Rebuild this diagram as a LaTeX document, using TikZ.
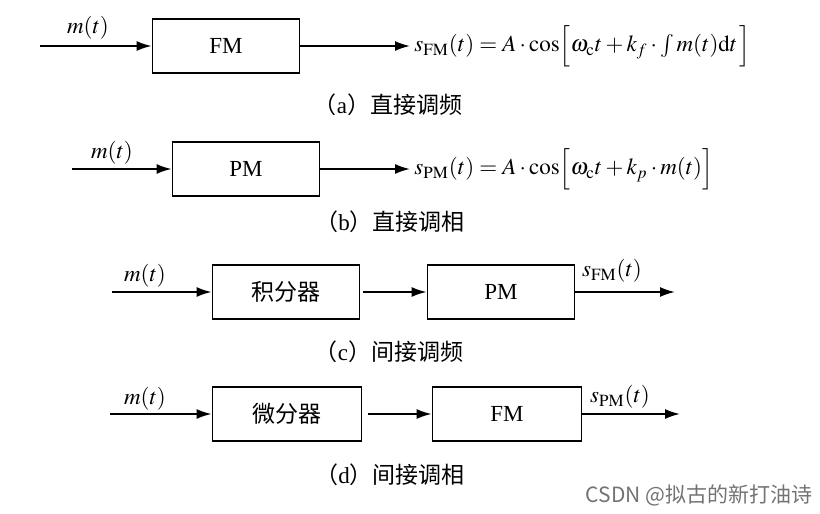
\documentclass[tikz,border=0pt]{standalone}
\usepackage{mathptmx}
\usepackage[no-math]{fontspec}
\setmainfont{Liberation Serif}
\newfontfamily\cjk{Noto Sans CJK SC}
\usetikzlibrary{arrows.meta}

\tikzset{
    blk/.style={draw, line width=0.9pt, minimum width=73.5pt, minimum height=27pt, inner sep=0pt},
    sig/.style={-{Latex[length=7.5pt,width=5pt]}, line width=0.9pt},
    eq/.style={anchor=west, inner sep=2pt},
}
\newcommand{\captext}[2]{{\cjk （}#1{\cjk ）}{\cjk #2}}

\begin{document}
\begin{tikzpicture}[x=0.5pt, y=-0.5pt, font=\fontsize{11.5}{14}\selectfont]
    \useasboundingbox (0,0) rectangle (820,514);

    % (a) direct FM
    \coordinate (inA) at (40,46);
    \node[blk] (fmA) at (226,46) {FM};
    \node[eq] (outA) at (410,46) {$s_{\mathrm{FM}}(t)=A\cdot\cos\Bigl[\omega_{\mathrm{c}}t+k_f\cdot\int m(t)\mathrm{d}t\,\Bigr]$};
    \draw[sig] (inA) -- (fmA);
    \draw[sig] (fmA) -- (outA);
    \node (mA) at (88,28) {$m(t)$};
    \node (capA) at (388,105) {\captext{a}{直接调频}};

    % (b) direct PM
    \coordinate (inB) at (72,169);
    \node[blk] (pmB) at (246,169) {PM};
    \node[eq] (outB) at (410,169) {$s_{\mathrm{PM}}(t)=A\cdot\cos\Bigl[\omega_{\mathrm{c}}t+k_p\cdot m(t)\Bigr]$};
    \draw[sig] (inB) -- (pmB);
    \draw[sig] (pmB) -- (outB);
    \node (mB) at (112,153) {$m(t)$};
    \node (capB) at (390,222) {\captext{b}{直接调相}};

    % (c) indirect FM
    \coordinate (inC) at (112,292);
    \node[blk] (intC) at (286,292) {\cjk 积分器};
    \node[blk] (pmC) at (501,292) {PM};
    \coordinate (outC) at (675,292);
    \draw[sig] (inC) -- (intC);
    \draw[sig, shorten <=1.5pt] (intC) -- (pmC);
    \draw[sig] (pmC) -- (outC);
    \node (mC) at (145,276) {$m(t)$};
    \node (sC) at (612,271) {$s_{\mathrm{FM}}(t)$};
    \node (capC) at (389,352) {\captext{c}{间接调频}};

    % (d) indirect PM
    \coordinate (inD) at (110,414);
    \node[blk, minimum width=74.5pt] (difD) at (287,414) {\cjk 微分器};
    \node[blk, minimum width=74.5pt] (fmD) at (507,414) {FM};
    \coordinate (outD) at (680,414);
    \draw[sig] (inD) -- (difD);
    \draw[sig, shorten <=3pt] (difD) -- (fmD);
    \draw[sig] (fmD) -- (outD);
    \node (mD) at (145,399) {$m(t)$};
    \node (sD) at (620,397) {$s_{\mathrm{PM}}(t)$};
    \node (capD) at (390,475) {\captext{d}{间接调相}};

    \node[text=black!55, font=\cjk\fontsize{10.5}{12}\selectfont] (mark) at (699,495) {CSDN @拟古的新打油诗};
\end{tikzpicture}
\end{document}
